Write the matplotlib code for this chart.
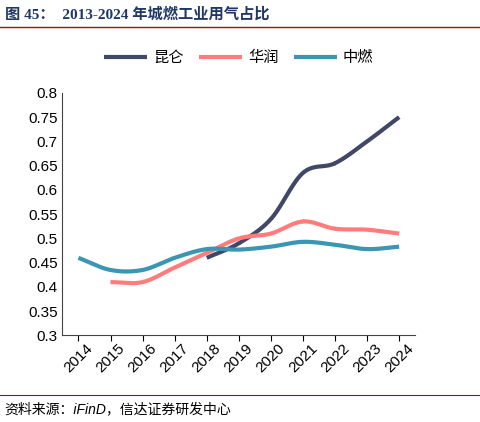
import matplotlib
matplotlib.use("Agg")
import matplotlib.pyplot as plt
import numpy as np

plt.rcParams['font.family'] = ['Liberation Sans', 'Noto Sans CJK SC', 'DejaVu Sans']

years = [2014, 2015, 2016, 2017, 2018, 2019, 2020, 2021, 2022, 2023, 2024]
kunlun_years = [2018, 2019, 2020, 2021, 2022, 2023, 2024]
kunlun = [0.46, 0.49, 0.54, 0.635, 0.655, 0.70, 0.75]
huarun_years = [2015, 2016, 2017, 2018, 2019, 2020, 2021, 2022, 2023, 2024]
huarun = [0.41, 0.41, 0.44, 0.47, 0.50, 0.51, 0.535, 0.52, 0.518, 0.51]
zhongran = [0.46, 0.435, 0.435, 0.46, 0.478, 0.477, 0.483, 0.493, 0.487, 0.478, 0.483]

def smooth(x, y, n=20):
    x = np.asarray(x, float); y = np.asarray(y, float)
    px = np.concatenate([[2*x[0]-x[1]], x, [2*x[-1]-x[-2]]])
    py = np.concatenate([[2*y[0]-y[1]], y, [2*y[-1]-y[-2]]])
    xs, ys = [], []
    t = np.linspace(0, 1, n)
    for i in range(1, len(px)-2):
        for arr, out in ((px, xs), (py, ys)):
            p0, p1, p2, p3 = arr[i-1:i+3]
            out.extend(0.5*((2*p1) + (-p0+p2)*t + (2*p0-5*p1+4*p2-p3)*t**2 + (-p0+3*p1-3*p2+p3)*t**3))
    return xs, ys

fig = plt.figure(figsize=(4.8, 4.22), dpi=100)
ax = fig.add_axes([0.13, 0.205, 0.735, 0.575])
for xx, yy, c, lab in [(kunlun_years, kunlun, '#414867', '昆仑'),
                       (huarun_years, huarun, '#FF7C7C', '华润'),
                       (years, zhongran, '#3A96B2', '中燃')]:
    sx, sy = smooth(xx, yy)
    ax.plot(sx, sy, color=c, lw=3, label=lab, solid_capstyle='butt')

ax.set_xlim(2013.5, 2024.5)
ax.set_ylim(0.3, 0.8)
ax.set_yticks(np.arange(0.3, 0.81, 0.05))
ax.set_yticklabels([f'{v:g}' for v in np.round(np.arange(0.3, 0.81, 0.05), 2)], fontsize=11)
ax.set_xticks(years)
ax.set_xticklabels([str(y) for y in years], rotation=45, fontsize=11)
for s in ['top', 'right']:
    ax.spines[s].set_visible(False)
ax.spines['left'].set_color('#444444')
ax.spines['bottom'].set_color('#444444')
ax.tick_params(axis='x', length=4, pad=0)
ax.tick_params(axis='y', length=0)
ax.legend(loc='upper center', bbox_to_anchor=(0.5, 1.23), ncol=3, frameon=False,
          fontsize=11, handlelength=2.8, columnspacing=1.0, handletextpad=0.4)

fig.text(0.01, 0.965, '图 45：  2013-2024 年城燃工业用气占比', fontsize=11, fontweight='bold',
         color='#1F3864', va='center', family=['Liberation Serif', 'Noto Sans CJK SC'])
fig.add_artist(plt.Line2D([0.0, 1.0], [0.935, 0.935], color='#8B1A1A', lw=1))
fig.add_artist(plt.Line2D([0.0, 1.0], [0.065, 0.065], color='#8B1A1A', lw=0.8))
fig.text(0.01, 0.03, '资料来源：iFinD，信达证券研发中心', fontsize=10, style='italic', va='center')
fig.savefig('out.png')
